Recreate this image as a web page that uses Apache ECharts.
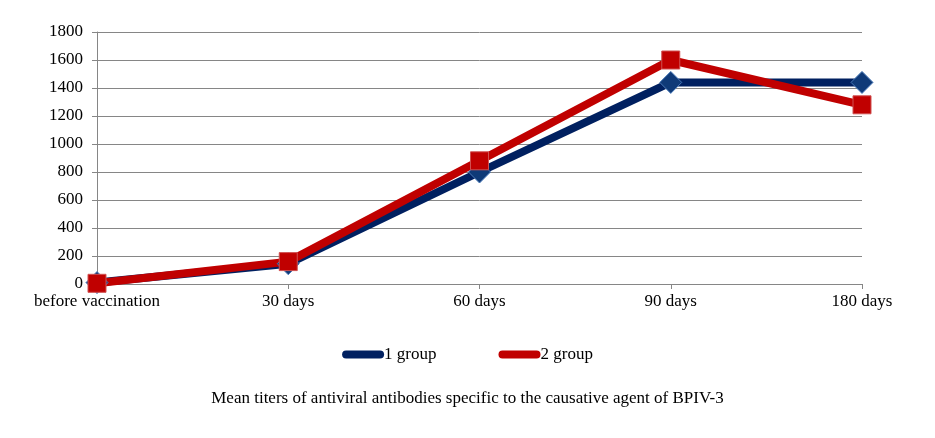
<!DOCTYPE html>
<html><head><meta charset="utf-8">
<script src="https://cdn.jsdelivr.net/npm/echarts@6/dist/echarts.min.js"></script>
<style>html,body{margin:0;padding:0;background:#fff}#c{width:935px;height:438px}</style>
</head><body><div id="c"></div>
<script>
var categories = ['before vaccination', '30 days', '60 days', '90 days', '180 days'];
var group1 = [10, 145, 800, 1440, 1440];
var group2 = [5, 160, 880, 1600, 1280];
var yTicks = [0, 200, 400, 600, 800, 1000, 1200, 1400, 1600, 1800];
var titleText = 'Mean titers of antiviral antibodies specific to the causative agent of BPIV-3';

var font = 'Liberation Serif, Times New Roman, serif';
var legendIcon = 'path://M4,2 L38,2 A4,4 0 0 1 38,10 L4,10 A4,4 0 0 1 4,2 Z';
var chart = echarts.init(document.getElementById('c'));
chart.setOption({
  animation: false,
  title: {text: titleText, left: 'center', top: 385, textStyle: {fontFamily: font, fontSize: 17, fontWeight: 'normal', color: '#000'}},
  legend: {
    top: 341, left: 'center', itemGap: 62, itemWidth: 42, itemHeight: 12,
    textStyle: {fontFamily: font, fontSize: 17, color: '#000', padding: [0,0,0,-5]},
    data: [
      {name: '1 group', icon: legendIcon, itemStyle: {color: '#002060', borderWidth: 0}},
      {name: '2 group', icon: legendIcon, itemStyle: {color: '#c00000', borderWidth: 0}}
    ]
  },
  grid: {left: 97, right: 73, top: 32, bottom: 154},
  xAxis: {
    type: 'category', data: categories, boundaryGap: false,
    axisLine: {lineStyle: {color: '#868686'}},
    axisTick: {show: true, length: 5, lineStyle: {color: '#868686'}},
    axisLabel: {fontFamily: font, fontSize: 17, color: '#000', margin: 9}
  },
  yAxis: {
    type: 'value', min: 0, max: 1800, interval: 200,
    axisLine: {show: true, lineStyle: {color: '#868686'}},
    axisTick: {show: true, length: 5, lineStyle: {color: '#868686'}},
    splitLine: {lineStyle: {color: '#868686'}},
    axisLabel: {fontFamily: font, fontSize: 17, color: '#000', margin: 14, formatter: function (v) { return String(v); }}
  },
  series: [
    {name: '1 group', type: 'line', data: group1, symbol: 'diamond', symbolSize: 22,
     lineStyle: {color: '#002060', width: 8}, itemStyle: {color: '#0f3a78', borderColor: '#4a7ab8', borderWidth: 1}, color: '#002060'},
    {name: '2 group', type: 'line', data: group2, symbol: 'rect', symbolSize: 18,
     lineStyle: {color: '#c00000', width: 8}, itemStyle: {color: '#c00000', borderColor: '#d05050', borderWidth: 1}, color: '#c00000'}
  ]
});
</script></body></html>
